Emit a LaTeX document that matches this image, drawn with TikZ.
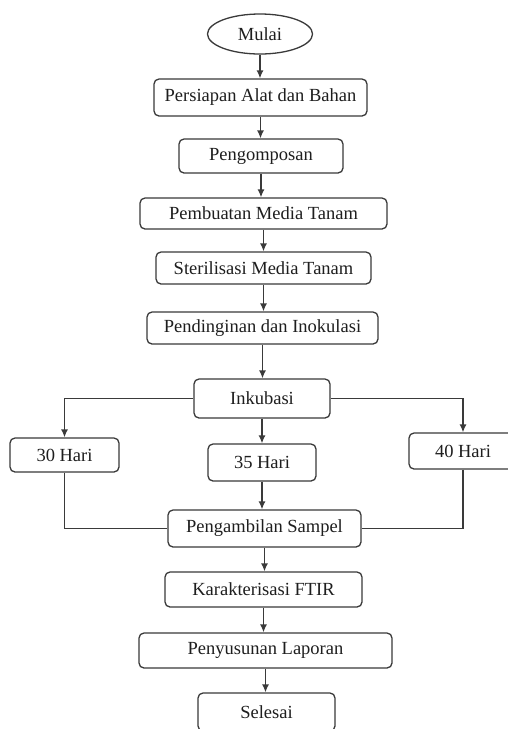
\documentclass[tikz,border=0pt]{standalone}
\usepackage{fontspec}
\setmainfont{Liberation Serif}
\usepackage{tikz}
\usetikzlibrary{shapes.geometric,arrows.meta}
\definecolor{ink}{HTML}{1E1E1E}
\definecolor{edge}{HTML}{3A3A3A}
\tikzset{
  proc/.style={draw=edge, rounded corners=5pt, line width=1.3pt, text=ink, inner sep=0pt, font=\fontsize{18.5}{21}\selectfont},
  term/.style={draw=edge, ellipse, line width=1.3pt, text=ink, inner sep=0pt, font=\fontsize{18.5}{21}\selectfont},
  flow/.style={draw=edge, line width=1.3pt, -{Latex[length=8pt,width=7pt]}},
  link/.style={draw=edge, line width=1.3pt},
}

\begin{document}
\begin{tikzpicture}[x=1pt, y=-1pt]
  \clip (0,0) rectangle (508,729);
  \fill[white] (0,0) rectangle (508,729);

  \node[term, minimum width=105, minimum height=40] (mulai) at (260,34) {Mulai};
  \node[proc, minimum width=213, minimum height=37] (persiapan) at (260.5,97.5) {Persiapan Alat dan Bahan};
  \node[proc, minimum width=164, minimum height=34] (kompos) at (261,156) {Pengomposan};
  \node[proc, minimum width=247, minimum height=31] (media) at (263.5,213.5) {Pembuatan Media Tanam};
  \node[proc, minimum width=215, minimum height=32] (steril) at (263.5,268) {Sterilisasi Media Tanam};
  \node[proc, minimum width=231, minimum height=32] (inokulasi) at (262.5,328) {Pendinginan dan Inokulasi};
  \node[proc, minimum width=136, minimum height=39] (inkubasi) at (262,398.5) {Inkubasi};

  \node[proc, minimum width=109, minimum height=34] (h30) at (64.5,455) {30 Hari};
  \node[proc, minimum width=108, minimum height=37] (h35) at (262,462.5) {35 Hari};
  \node[proc, minimum width=108, minimum height=36] (h40) at (463,451) {40 Hari};

  \node[proc, minimum width=193, minimum height=37] (sampel) at (264.5,528.5) {Pengambilan Sampel};
  \node[proc, minimum width=197, minimum height=35] (ftir) at (263.5,589.5) {Karakterisasi FTIR};
  \node[proc, minimum width=253, minimum height=35] (laporan) at (265.5,650.5) {Penyusunan Laporan};
  \node[proc, minimum width=137, minimum height=38] (selesai) at (266.5,712) {Selesai};

  % main line
  \draw[flow] (mulai.south) -- (mulai.south |- persiapan.north);
  \draw[flow] (persiapan.south) -- (persiapan.south |- kompos.north);
  \draw[flow] (kompos.south) -- (kompos.south |- media.north);
  \draw[flow] (media.south) -- (media.south |- steril.north);
  \draw[flow] (steril.south) -- (steril.south |- inokulasi.north);
  \draw[flow] (inokulasi.south) -- (inokulasi.south |- inkubasi.north);

  % three branches
  \draw[flow] (inkubasi.west) -| (h30.north);
  \draw[flow] (inkubasi.south) -- (h35.north);
  \draw[flow] (inkubasi.east) -| (h40.north);
  \draw[link] (h30.south) |- (sampel.west);
  \draw[flow] (h35.south) -- (h35.south |- sampel.north);
  \draw[link] (h40.south) |- (sampel.east);

  \draw[flow] (sampel.south) -- (sampel.south |- ftir.north);
  \draw[flow] (ftir.south) -- (ftir.south |- laporan.north);
  \draw[flow] (laporan.south) -- (laporan.south |- selesai.north);
\end{tikzpicture}
\end{document}
